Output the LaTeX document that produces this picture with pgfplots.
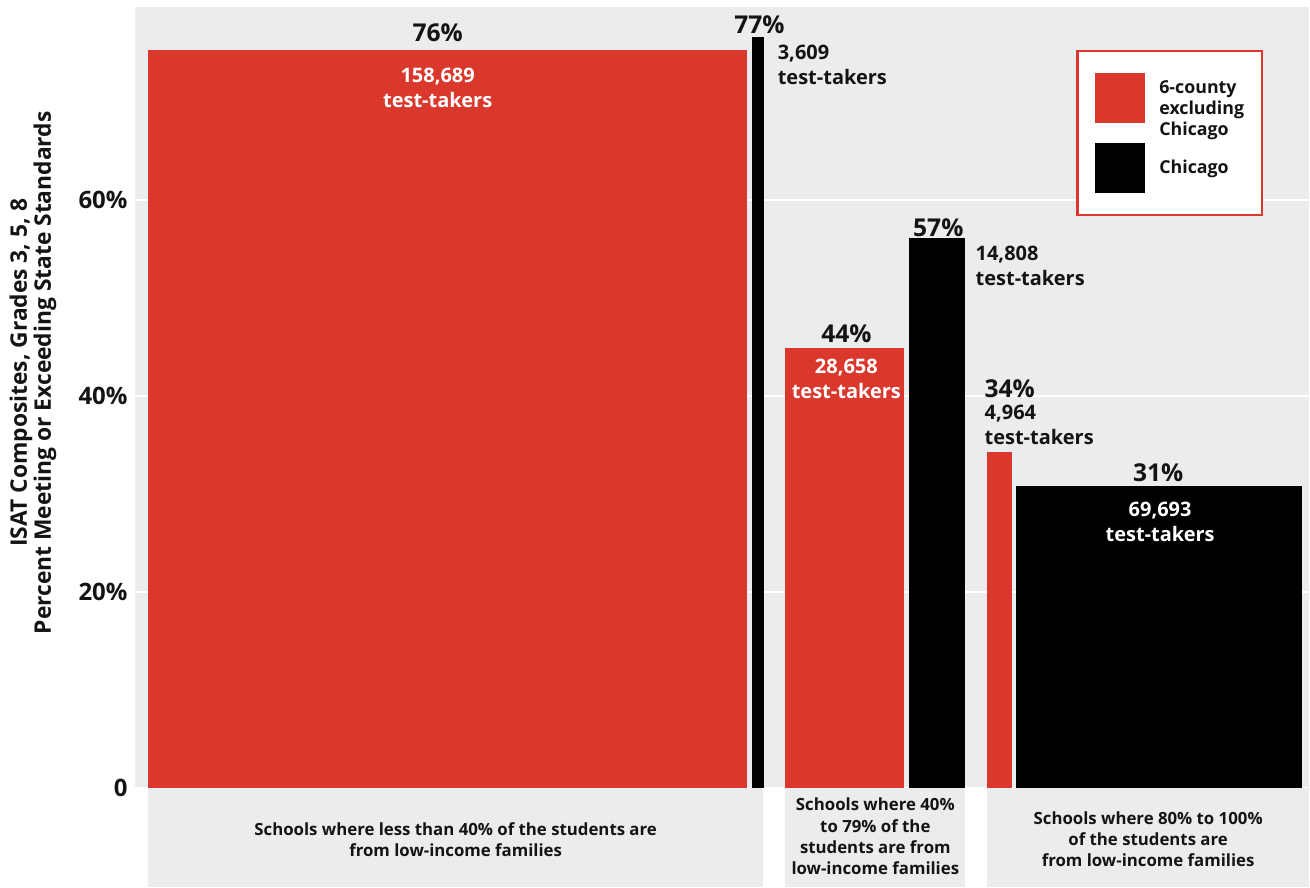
\documentclass[border=0pt]{standalone}
\usepackage{fontspec}
\setmainfont{Open Sans}
\usepackage{pgfplots}
\pgfplotsset{compat=1.18}
\definecolor{cred}{RGB}{218,55,45}
\definecolor{bggray}{RGB}{236,236,238}
\definecolor{txt}{RGB}{20,20,20}
\begin{document}
\begin{tikzpicture}[font=\bfseries,
  pct/.style={font=\fontsize{12.3}{14}\selectfont\bfseries, text=txt, inner sep=0pt},
  cnt/.style={font=\fontsize{10}{12.5}\selectfont\bfseries, inner sep=0pt},
  cat/.style={font=\fontsize{8.4}{10.6}\selectfont\bfseries, text=txt, align=center, inner sep=0pt}]
\begin{axis}[
  x=0.5pt, y=4.905pt,
  xmin=135, xmax=1310, ymin=0, ymax=79.7,
  axis line style={draw=none},
  axis background/.style={fill=bggray},
  xtick=\empty,
  ytick={0,20,40,60}, yticklabels={0,20\%,40\%,60\%},
  major tick length=0pt,
  yticklabel style={font=\fontsize{12}{14}\selectfont\bfseries, text=txt, inner sep=0pt, anchor=east, xshift=-3.5pt},
  ymajorgrids, grid style={white, line width=1pt},
  clip=false,
  legend image code/.code={\fill[#1] (0pt,-12.5pt) rectangle (25pt,12.5pt);},
  legend cell align=left,
  legend style={at={(axis cs:1077,75.33)}, anchor=north west, draw=cred, line width=1.2pt,
    fill=white, inner xsep=9pt, inner ysep=11pt, row sep=10pt, column sep=7pt,
    font=\fontsize{8.9}{10.5}\selectfont\bfseries, text=txt,
    cells={anchor=west}, nodes={inner sep=0pt}},
]
% invisible frame fixing the page size
\path (axis cs:0,-10.09) rectangle (axis cs:1310,80.43);
% category panels
\fill[bggray] (axis cs:148,0) rectangle (axis cs:764,-10.09);
\fill[bggray] (axis cs:786,0) rectangle (axis cs:966,-10.09);
\fill[bggray] (axis cs:988,0) rectangle (axis cs:1310,-10.09);
% bars: 6-county excluding Chicago
\addplot[fill=cred, draw=none] coordinates {(148,75.3) (748,75.3)} \closedcycle;
\addlegendentry{\begin{tabular}{@{}l@{}}6-county\\excluding\\Chicago\end{tabular}}
\addplot[fill=cred, draw=none, forget plot] coordinates {(786,44.9) (905,44.9)} \closedcycle;
\addplot[fill=cred, draw=none, forget plot] coordinates {(988,34.3) (1013,34.3)} \closedcycle;
% bars: Chicago
\addplot[fill=black, draw=none] coordinates {(753,76.7) (765,76.7)} \closedcycle;
\addlegendentry{Chicago}
\addplot[fill=black, draw=none, forget plot] coordinates {(910,56.1) (966,56.1)} \closedcycle;
\addplot[fill=black, draw=none, forget plot] coordinates {(1017,30.8) (1303,30.8)} \closedcycle;
% value labels
\node[pct, anchor=north] at (axis cs:438,78.09) {76\%};
\node[cnt, anchor=north, text=white, align=center] at (axis cs:438,73.5) {158,689\\test-takers};
\node[pct, anchor=north] at (axis cs:760,78.9) {77\%};
\node[cnt, anchor=north west, text=txt, align=left] at (axis cs:778,75.84) {3,609\\test-takers};
\node[pct, anchor=north] at (axis cs:939,58.2) {57\%};
\node[cnt, anchor=north west, text=txt, align=left] at (axis cs:976,55.4) {14,808\\test-takers};
\node[pct, anchor=north] at (axis cs:847,47.3) {44\%};
\node[cnt, anchor=north, text=white, align=center] at (axis cs:847,43.85) {28,658\\test-takers};
\node[pct, anchor=north west] at (axis cs:985,41.69) {34\%};
\node[cnt, anchor=north west, text=txt, align=left] at (axis cs:985,39.14) {4,964\\test-takers};
\node[pct, anchor=north] at (axis cs:1159,33.2) {31\%};
\node[cnt, anchor=north, text=white, align=center] at (axis cs:1161,29.27) {69,693\\test-takers};
% category labels
\node[cat] at (axis cs:456,-5.2) {Schools where less than 40\% of the students are\\from low-income families};
\node[cat] at (axis cs:876,-4.9) {Schools where 40\%\\to 79\% of the\\students are from\\low-income families};
\node[cat] at (axis cs:1149,-5.2) {Schools where 80\% to 100\%\\of the students are\\from low-income families};
% y axis title
\node[rotate=90, align=center, text=txt, inner sep=0pt, font=\fontsize{11.4}{12}\selectfont\bfseries]
  at (axis cs:33,42.4) {ISAT Composites, Grades 3, 5, 8\\Percent Meeting or Exceeding State Standards};
\end{axis}
\end{tikzpicture}
\end{document}
